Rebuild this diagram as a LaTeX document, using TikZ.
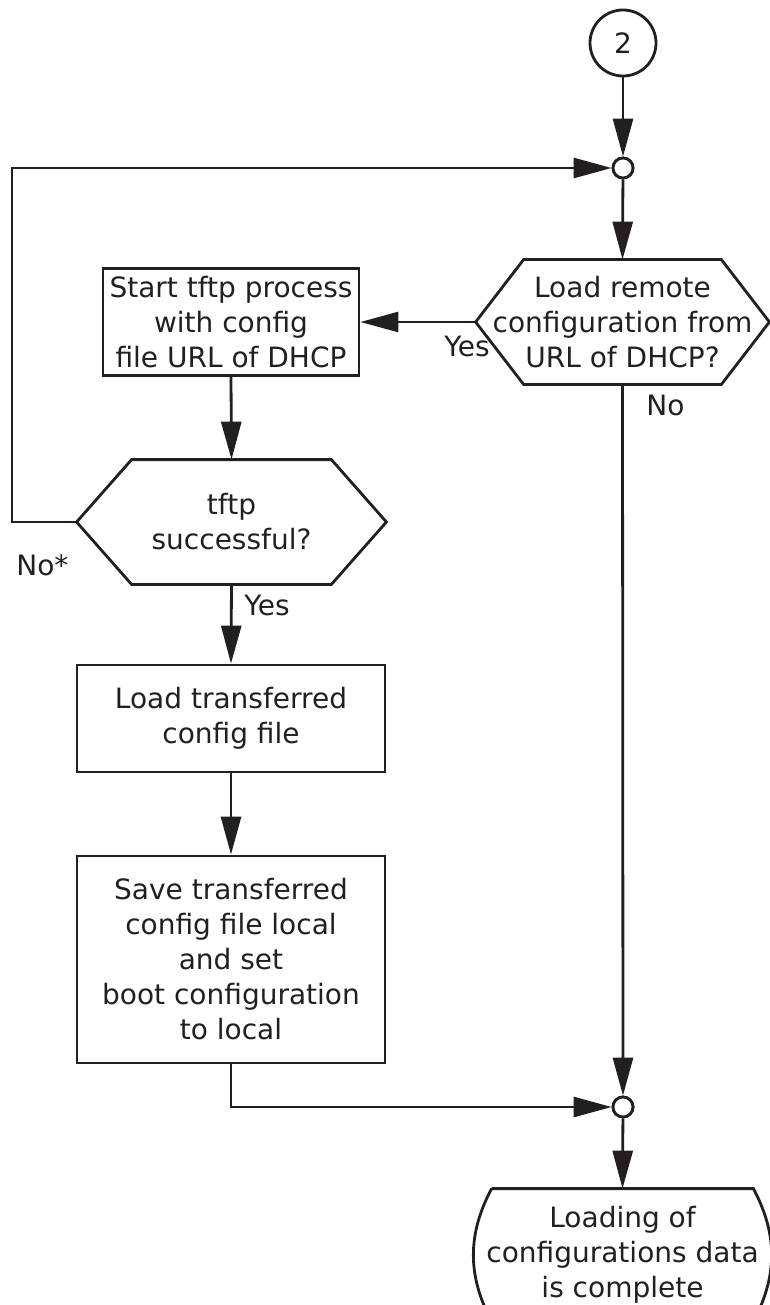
\documentclass[tikz,border=0pt]{standalone}
\usepackage{fontspec}
\setmainfont{DejaVu Sans}
\usetikzlibrary{arrows.meta}
\definecolor{ink}{HTML}{231F20}

% hexagon border round a text node: #1 node name, #2 slant
\newcommand{\hexborder}[2]{%
  \draw (#1.west) -- ([xshift=#2]#1.north west) -- ([xshift=-#2]#1.north east)
    -- (#1.east) -- ([xshift=-#2]#1.south east) -- ([xshift=#2]#1.south west) -- cycle;}

\begin{document}
\begin{tikzpicture}[x=1pt, y=-1pt, line width=2.8pt, color=ink,
    font=\fontsize{28}{35}\selectfont,
    box/.style={draw, rectangle, inner sep=0pt, align=center},
    decision/.style={rectangle, inner sep=0pt, align=center},
    junction/.style={circle, draw, fill=white, minimum size=20pt, inner sep=0pt},
    arr/.style={-{Triangle[length=38pt, width=20pt]}},
    lbl/.style={inner sep=0pt, anchor=base west}]
  \useasboundingbox (0,0) rectangle (770,1305);

  % Start and upper join
  \node[circle, draw, minimum size=66pt, inner sep=0pt] (entry) at (623,43) {2};
  \node[junction] (j1) at (623,168) {};

  % Remote configuration?
  \node[decision, minimum width=291pt, minimum height=122pt] (remote) at (622.5,322)
    {Load remote\\configuration from\\URL of DHCP?};
  \hexborder{remote}{48pt}

  \node[box, minimum width=256pt, minimum height=107pt] (tftp) at (231,322)
    {Start tftp process\\with config\\file URL of DHCP};

  \node[decision, minimum width=307pt, minimum height=122pt] (success) at (231.5,522)
    {tftp\\successful?};
  \hexborder{success}{55pt}

  \node[box, minimum width=308pt, minimum height=107pt] (load) at (231,718.5)
    {Load transferred\\config file};
  \node[box, minimum width=308pt, minimum height=207pt] (save) at (231,959.5)
    {Save transferred\\config file local\\and set\\boot configuration\\to local};

  % Lower join and end
  \node[junction] (j2) at (623,1107) {};
  \node[decision, minimum width=291pt, minimum height=130pt] (done) at (622.5,1255)
    {Loading of\\configurations data\\is complete};
  \draw ([xshift=16pt]done.north west) -- ([xshift=-16pt]done.north east)
    to[bend left=28] ([xshift=-16pt]done.south east) -- ([xshift=16pt]done.south west)
    to[bend left=28] ([xshift=16pt]done.north west);

  % Labels
  \node[lbl] (yes1) at (443,356) {Yes};
  \node[lbl] (no1) at (645,415) {No};
  \node[lbl] (yes2) at (243,615) {Yes};
  \node[lbl] (no2) at (15,575) {No*};

  % Connectors
  \coordinate (back) at (12,168);
  \draw[arr] (entry) -- (j1);
  \draw[arr] (j1) -- (remote.north);
  \draw[arr] (remote.west) -- (tftp.east);
  \draw[arr] (tftp.south) -- (success.north);
  \draw[arr] (success.west) -| (back) -- (j1);
  \draw[arr] (success.south) -- (load.north);
  \draw[arr] (load.south) -- (save.north);
  \draw[arr] (save.south) |- (j2);
  \draw[arr] (remote.south) -- (j2);
  \draw[arr] (j2) -- (done.north);
  \node[junction] at (j1) {};
  \node[junction] at (j2) {};
\end{tikzpicture}
\end{document}
